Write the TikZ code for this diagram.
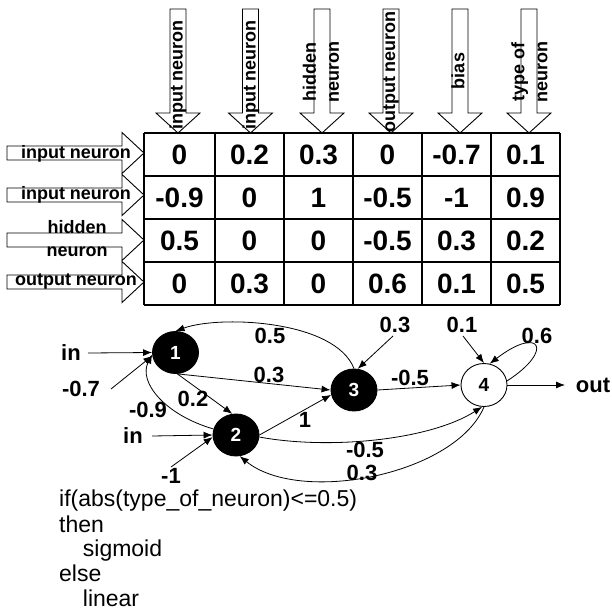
\documentclass[tikz,border=0pt]{standalone}
\usepackage{fontspec}
\setmainfont{Liberation Sans}
\usetikzlibrary{arrows.meta,shapes.geometric}
\newcommand\downblock[1]{%
  \draw[blk] (#1-8,9) -- (#1+8,9) -- (#1+8,113) -- (#1+22,113) -- (#1,133) -- (#1-22,113) -- (#1-8,113) -- cycle;}
\newcommand\rightblock[1]{%
  \draw[blk] (7,#1-7) -- (122,#1-7) -- (122,#1-20.5) -- (144,#1) -- (122,#1+20.5) -- (122,#1+7) -- (7,#1+7) -- cycle;}
\begin{document}
\begin{tikzpicture}[x=1pt,y=-1pt,
  blk/.style={draw=black,line width=0.9pt,line join=miter},
  tbl/.style={draw=black,line width=1.1pt},
  lab/.style={font=\fontsize{18}{23}\selectfont\bfseries,align=center,inner sep=0pt},
  num/.style={font=\fontsize{28}{30}\selectfont\bfseries,inner sep=0pt},
  wl/.style={font=\fontsize{22}{24}\selectfont\bfseries,inner sep=0pt},
  code/.style={font=\fontsize{23}{25}\selectfont,inner sep=0pt,anchor=base west},
  bn/.style={ellipse,draw=black,fill=black,text=white,minimum width=46pt,minimum height=42pt,inner sep=0pt,line width=0.9pt,font=\fontsize{19}{20}\selectfont\bfseries},
  wn/.style={ellipse,draw=black,fill=white,text=black,minimum width=46pt,minimum height=43pt,inner sep=0pt,line width=0.9pt,font=\fontsize{19}{20}\selectfont\bfseries},
  arr/.style={draw=black,line width=0.8pt,-{Latex[length=9pt,width=7pt]}}]
\useasboundingbox (0,0) rectangle (612,612);
% top block arrows
\downblock{178}
\downblock{250.5}
\downblock{322}
\downblock{391}
\downblock{460}
\downblock{529}
\node[lab,rotate=90] (t1) at (178,75) {input neuron};
\node[lab,rotate=90] (t2) at (251,75) {input neuron};
\node[lab,rotate=90] (t3) at (321,72) {hidden\\neuron};
\node[lab,rotate=90] (t4) at (391,72) {output neuron};
\node[lab,rotate=90] (t5) at (458,71) {bias};
\node[lab,rotate=90] (t6) at (529.5,72) {type of\\neuron};
% left block arrows
\rightblock{153}
\rightblock{195}
\rightblock{240}
\rightblock{282}
\node[lab] (l1) at (76,154) {input neuron};
\node[lab] (l2) at (76,195) {input neuron};
\node[lab] (l3) at (77,239) {hidden\\neuron};
\node[lab] (l4) at (76,281) {output neuron};
% table
\foreach \x in {144,215,284,353,422,491,560} \draw[tbl] (\x,133) -- (\x,305);
\foreach \y in {133,176,219,262,305} \draw[tbl] (144,\y) -- (560,\y);
\node[num] (c11) at (179.5,155) {0};
\node[num] (c12) at (249.5,155) {0.2};
\node[num] (c13) at (318.5,155) {0.3};
\node[num] (c14) at (387.5,155) {0};
\node[num] (c15) at (456.5,155) {-0.7};
\node[num] (c16) at (525.5,155) {0.1};
\node[num] (c21) at (179.5,197.5) {-0.9};
\node[num] (c22) at (249.5,197.5) {0};
\node[num] (c23) at (318.5,197.5) {1};
\node[num] (c24) at (387.5,197.5) {-0.5};
\node[num] (c25) at (456.5,197.5) {-1};
\node[num] (c26) at (525.5,197.5) {0.9};
\node[num] (c31) at (179.5,240.5) {0.5};
\node[num] (c32) at (249.5,240.5) {0};
\node[num] (c33) at (318.5,240.5) {0};
\node[num] (c34) at (387.5,240.5) {-0.5};
\node[num] (c35) at (456.5,240.5) {0.3};
\node[num] (c36) at (525.5,240.5) {0.2};
\node[num] (c41) at (179.5,283.5) {0};
\node[num] (c42) at (249.5,283.5) {0.3};
\node[num] (c43) at (318.5,283.5) {0};
\node[num] (c44) at (387.5,283.5) {0.6};
\node[num] (c45) at (456.5,283.5) {0.1};
\node[num] (c46) at (525.5,283.5) {0.5};
% graph nodes
\node[bn] (n1) at (175.5,352.5) {1};
\node[bn] (n2) at (236,435) {2};
\node[bn] (n3) at (354,390) {3};
\node[wn] (n4) at (484,385) {4};
% free ends
\coordinate (in1) at (88,353);
\coordinate (b1) at (111,389);
\coordinate (in2) at (152,436);
\coordinate (b2) at (171,467);
\coordinate (b3) at (393,336);
\coordinate (b4) at (463,336);
\coordinate (outp) at (565,385);
% labels
\node[wl] (lin1) at (71,353) {in};
\node[wl] (lb1) at (81,389) {-0.7};
\node[wl] (w12) at (193,399) {0.2};
\node[wl] (w21) at (148,410) {-0.9};
\node[wl] (lin2) at (133,436) {in};
\node[wl] (lb2) at (171,476) {-1};
\node[wl] (w31) at (270,336) {0.5};
\node[wl] (w13) at (269,375) {0.3};
\node[wl] (w23) at (305,420) {1};
\node[wl] (lb3) at (395,325) {0.3};
\node[wl] (lb4) at (462,325) {0.1};
\node[wl] (w44) at (537,336) {0.6};
\node[wl] (w34) at (410,378) {-0.5};
\node[wl] (lout) at (593,385) {out};
\node[wl] (w24) at (365,450) {-0.5};
\node[wl] (w42) at (362,473) {0.3};
% connectors
\draw[arr] (in1) -- (n1.west);
\draw[arr] (b1) -- (n1.-172);
\draw[arr] (in2) -- (n2.west);
\draw[arr] (b2) -- (n2.-175);
\draw[arr] (n3.north) .. controls (335,320) and (220,315) .. (n1.north);
\draw[arr] (n1.-85) -- (n3.west);
\draw[arr] (n1.-85) -- (n2.100);
\draw[arr] (n2.165) .. controls (165,415) and (138,382) .. (n1.-175);
\draw[arr] (n2.east) -- (n3.-168);
\draw[arr] (n2.-5) .. controls (330,450) and (430,440) .. (n4.-95);
\draw[arr] (n4.-90) .. controls (455,475) and (300,505) .. (n2.-80);
\draw[arr] (b3) -- (n3.80);
\draw[arr] (b4) -- (n4.north);
\draw[arr] (n4.10) .. controls (555,350) and (540,325) .. (n4.75);
\draw[arr] (n3.east) -- (n4.west);
\draw[arr] (n4.east) -- (outp);
% code text
\node[code] (k1) at (59,506) {if(abs(type\_of\_neuron)<=0.5)};
\node[code] (k2) at (59,532) {then};
\node[code] (k3) at (82.7,556) {sigmoid};
\node[code] (k4) at (59,581) {else};
\node[code] (k5) at (82.7,606) {linear};
\end{tikzpicture}
\end{document}
